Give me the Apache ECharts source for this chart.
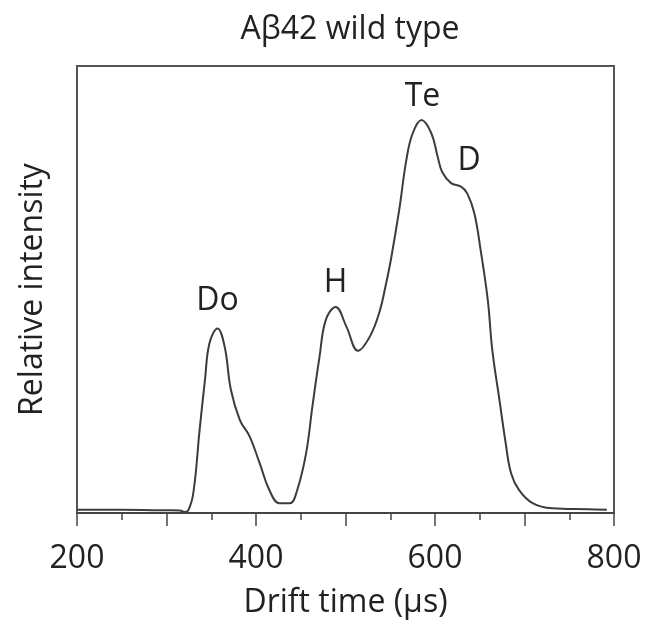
<!DOCTYPE html>
<html>
<head>
<meta charset="utf-8">
<script src="https://cdn.jsdelivr.net/npm/echarts@6/dist/echarts.min.js"></script>
<style>
  html, body { margin: 0; padding: 0; background: #fff; }
  #chart { width: 645px; height: 631px; }
</style>
</head>
<body>
<div id="chart"></div>
<script>
// Arrival-time distribution, drift time in microseconds vs relative intensity (%)
const driftTime = [200, 250, 300, 315, 320, 324, 330, 337, 343, 348, 357, 365, 372, 382, 393, 404, 415, 426, 438, 446, 456, 463, 471, 478, 489, 501, 514, 527, 538, 545, 551, 560, 568, 575, 585, 596, 603, 608, 618, 629, 636, 644, 651, 659, 664, 672, 679, 685, 694, 709, 731, 772, 792];
const intensity = [0.7, 0.7, 0.6, 0.55, 0.25, 0.5, 4.5, 18.6, 29.8, 38.0, 41.3, 37.2, 27.5, 20.8, 17.1, 11.2, 5.1, 2.2, 2.2, 5.1, 13.4, 23.8, 35.0, 43.2, 46.1, 41.7, 36.3, 39.4, 45.0, 51.0, 57.0, 67.8, 79.0, 84.9, 87.9, 84.9, 79.7, 76.3, 73.8, 73.0, 71.5, 67.0, 58.8, 47.6, 36.5, 25.3, 15.6, 8.9, 5.1, 2.2, 1.05, 0.83, 0.7];

// Conformer labels and where their text sits
const peakNames = ['Do', 'H', 'Te', 'D'];
const peakLabelX = [357, 489, 586, 638];
const peakLabelY = [47.5, 51.5, 93.2, 78.8];

const xTickLabels = [200, 400, 600, 800];

const font = '"Open Sans", sans-serif';
const textColor = '#222';

const chart = echarts.init(document.getElementById('chart'));
chart.setOption({
  animation: false,
  title: {
    text: 'A\u03b242 wild type',
    left: 345,
    top: 9,
    textAlign: 'center',
    textStyle: { fontFamily: font, fontSize: 32, fontWeight: 'normal', color: textColor }
  },
  grid: {
    left: 77, right: 31, top: 66, bottom: 118,
    show: true, borderColor: '#555', borderWidth: 2, backgroundColor: 'transparent'
  },
  xAxis: {
    type: 'value',
    min: 200, max: 800, interval: 100,
    name: 'Drift time (\u03bcs)',
    nameLocation: 'middle',
    nameGap: 74,
    nameTextStyle: { fontFamily: font, fontSize: 32, color: textColor },
    axisLine: { show: true, lineStyle: { color: '#444', width: 2 } },
    axisTick: { show: true, inside: false, length: 13, lineStyle: { color: '#444', width: 1.5 } },
    minorTick: { show: true, splitNumber: 2, length: 7, lineStyle: { color: '#444', width: 1.5 } },
    splitLine: { show: false },
    axisLabel: {
      margin: 30,
      fontFamily: font, fontSize: 32, color: textColor,
      formatter: v => (xTickLabels.indexOf(v) >= 0 ? String(v) : '')
    }
  },
  yAxis: {
    type: 'value',
    min: 0, max: 100,
    name: 'Relative intensity',
    nameLocation: 'middle',
    nameGap: 28,
    nameTextStyle: { fontFamily: font, fontSize: 32, color: textColor },
    axisLine: { show: true, lineStyle: { color: '#555', width: 2 } },
    axisTick: { show: false },
    axisLabel: { show: false },
    splitLine: { show: false }
  },
  series: [
    {
      type: 'line',
      data: driftTime.map((x, i) => [x, intensity[i]]),
      smooth: 0.4,
      showSymbol: false,
      lineStyle: { color: '#3c3c3c', width: 2 }
    },
    {
      type: 'scatter',
      data: peakNames.map((n, i) => ({ value: [peakLabelX[i], peakLabelY[i]], name: n })),
      symbolSize: 0,
      silent: true,
      itemStyle: { opacity: 1 },
      label: {
        show: true,
        position: 'inside',
        formatter: p => p.name,
        fontFamily: font, fontSize: 32, color: textColor, opacity: 1
      }
    }
  ]
});
</script>
</body>
</html>
